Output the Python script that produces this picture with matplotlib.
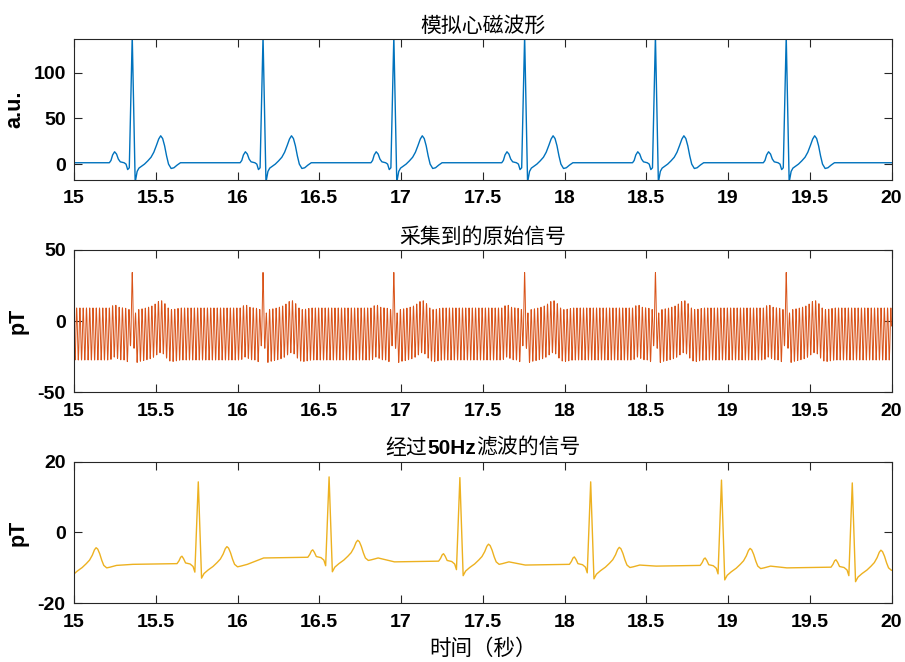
import numpy as np
import matplotlib.pyplot as plt
from matplotlib.offsetbox import TextArea, HPacker, AnchoredOffsetbox
from matplotlib.ticker import FormatStrFormatter

plt.rcParams['font.family'] = ['Liberation Sans', 'Noto Sans CJK SC', 'DejaVu Sans']
plt.rcParams['axes.unicode_minus'] = False

# simulated MCG beat, knots relative to the R peak (s) -> a.u.
clean_rel = [-0.40, -0.140, -0.130, -0.120, -0.108, -0.096, -0.085, -0.073,
             -0.050, -0.038, -0.028, -0.018, 0.0, 0.018, 0.030, 0.041, 0.055,
             0.075, 0.095, 0.115, 0.132, 0.148, 0.162, 0.174, 0.186, 0.198,
             0.210, 0.222, 0.238, 0.255, 0.275, 0.295]
clean_val = [1.5, 1.5, 4.0, 10.0, 13.5, 11.0, 5.5, 2.5,
             1.5, 0.0, -6.0, -4.0, 140.0, -20.0, -8.0, -4.4, -2.6,
             0.0, 3.5, 7.5, 13.0, 20.5, 27.5, 31.0, 28.0, 20.0,
             9.0, 0.0, -4.8, -4.0, -1.0, 1.5]
clean_r_times = [14.556, 15.356, 16.156, 16.956, 17.756, 18.556, 19.356, 20.156]

# raw recording = MCG * gain + offset + 50 Hz mains pickup
raw_gain = 0.18
raw_offset = -9.3
mains_amp = 18.3
mains_hz = 50

# filtered beat, knots relative to the R peak (s) -> pT above baseline
filt_rel = [-0.40, -0.130, -0.118, -0.108, -0.100, -0.090, -0.078, -0.050,
            -0.032, -0.021, 0.0, 0.020, 0.035, 0.060, 0.090, 0.115, 0.135,
            0.152, 0.165, 0.175, 0.185, 0.197, 0.210, 0.222, 0.240, 0.260, 0.300]
filt_val = [0.0, 0.2, 1.0, 2.0, 2.3, 1.6, 0.4, 0.1,
            -0.6, -2.2, 0.0, -3.9, -2.6, -1.6, -0.6, 0.5, 1.5,
            2.9, 4.4, 5.0, 4.6, 3.3, 1.4, 0.0, -0.7, -0.5, 0.0]
filt_r_times = [14.96, 15.76, 16.56, 17.36, 18.16, 18.96, 19.76]
filt_r_peak = [14.0, 14.3, 15.7, 15.5, 14.3, 14.8, 14.0]
filt_base = [-9.3, -9.0, -7.2, -8.3, -9.2, -9.5, -10.0]

xticks = [15, 15.5, 16, 16.5, 17, 17.5, 18, 18.5, 19, 19.5, 20]

# stitch the beats together
clean_t = np.concatenate([r + np.array(clean_rel) for r in clean_r_times])
clean_y = np.concatenate([np.array(clean_val) for r in clean_r_times])

filt_t, filt_y = [], []
for r, pk, b in zip(filt_r_times, filt_r_peak, filt_base):
    for dt, v in zip(filt_rel, filt_val):
        filt_t.append(r + dt)
        filt_y.append(pk if dt == 0.0 else b + v)

t = np.arange(15.0, 20.0005, 0.001)
raw = (raw_offset + raw_gain * np.interp(t, clean_t, clean_y)
       + mains_amp * np.cos(2 * np.pi * mains_hz * (t - clean_r_times[1])))

fig = plt.figure(figsize=(9.05, 6.62), dpi=100)
left, width = 0.0818, 0.9033
ax1 = fig.add_axes([left, 0.7281, width, 0.2130])
ax2 = fig.add_axes([left, 0.4074, width, 0.2150])
ax3 = fig.add_axes([left, 0.0887, width, 0.2139])

ax1.plot(clean_t, clean_y, color='#0072BD', lw=1.0)
ax2.plot(t, raw, color='#D95319', lw=0.7)
ax3.plot(filt_t, filt_y, color='#EDB120', lw=1.0)

ax1.set_ylim(-17.4, 137)
ax1.set_yticks([0, 50, 100])
ax2.set_ylim(-50, 50)
ax2.set_yticks([-50, 0, 50])
ax3.set_ylim(-20, 20)
ax3.set_yticks([-20, 0, 20])

for ax in (ax1, ax2, ax3):
    ax.set_xlim(15, 20)
    ax.set_xticks(xticks)
    ax.xaxis.set_major_formatter(FormatStrFormatter('%g'))
    ax.tick_params(direction='in', top=True, right=True, length=5.5, width=0.8,
                   color='#262626', labelsize=14)
    ax.tick_params(axis='x', pad=7.5)
    ax.tick_params(axis='y', pad=6)
    for lab in ax.get_xticklabels() + ax.get_yticklabels():
        lab.set_fontweight('bold')
    for s in ax.spines.values():
        s.set_color('#262626')
        s.set_linewidth(0.8)

ax1.set_ylabel('a.u.', fontsize=15.5, fontweight='bold')
ax1.yaxis.set_label_coords(-0.059, 0.5)
ax2.set_ylabel('pT', fontsize=15.5, fontweight='bold')
ax2.yaxis.set_label_coords(-0.055, 0.5)
ax3.set_ylabel('pT', fontsize=15.5, fontweight='bold')
ax3.yaxis.set_label_coords(-0.055, 0.5)

ax1.set_title('模拟心磁波形', fontsize=15, fontfamily='Noto Sans CJK SC', pad=5)
ax2.set_title('采集到的原始信号', fontsize=15, fontfamily='Noto Sans CJK SC', pad=5)

# title with a bold "50Hz" in the middle
cjk = dict(fontsize=15, fontfamily='Noto Sans CJK SC')
parts = [TextArea('经过', textprops=cjk),
         TextArea('50Hz', textprops=dict(fontsize=15, fontfamily='Liberation Sans',
                                         fontweight='bold')),
         TextArea('滤波的信号', textprops=cjk)]
box = HPacker(children=parts, align='baseline', pad=0, sep=0)
anch = AnchoredOffsetbox(loc='lower center', child=box, frameon=False, pad=0,
                         borderpad=0, bbox_to_anchor=(0.5, 1.02),
                         bbox_transform=ax3.transAxes)
ax3.add_artist(anch)

ax3.set_xlabel('时间（秒）', fontsize=15.5, fontfamily='Noto Sans CJK SC', labelpad=5)

fig.savefig('out.png', dpi=100)
